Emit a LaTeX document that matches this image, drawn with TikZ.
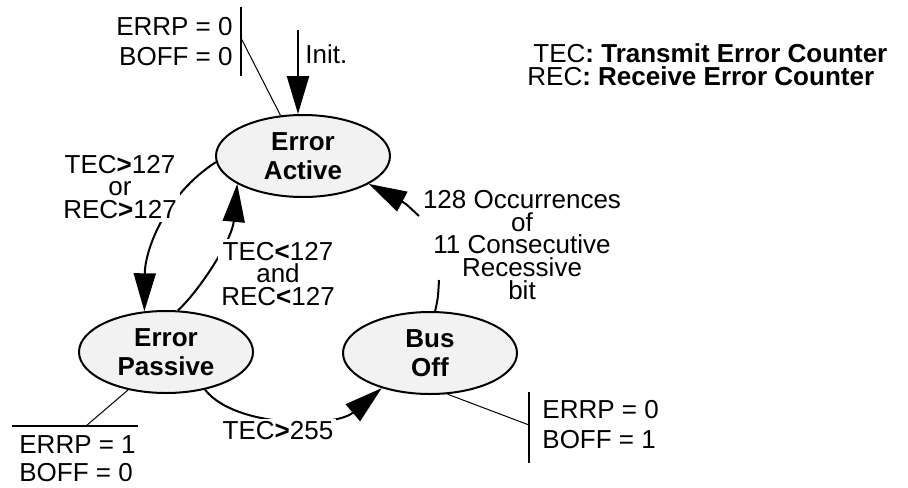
\documentclass[tikz,border=0pt]{standalone}
\usepackage{fontspec}
\setmainfont{Liberation Sans}
\usepackage{xcolor}
\usetikzlibrary{shapes.geometric,arrows.meta,positioning}
\definecolor{stategray}{rgb}{0.95,0.95,0.95}

\begin{document}
\begin{tikzpicture}[x=0.5pt,y=-0.5pt,
    state/.style={draw, ellipse, fill=stategray, line width=1pt, minimum width=87pt, minimum height=41pt, inner sep=0pt, align=center, font=\fontsize{13}{14.5}\selectfont\bfseries},
    trans/.style={line width=1pt, -{Triangle[length=19pt,width=11pt]}},
    cond/.style={fill=white, inner sep=1.5pt, align=center, font=\fontsize{13}{11.4}\selectfont},
    flags/.style={inner sep=0pt, font=\fontsize{13}{15}\selectfont},
    pin/.style={line width=0.5pt},
    bar/.style={line width=1pt}]
            \useasboundingbox (0,0) rectangle (908,487);

            % States
            \node[state] (ea) at (303,156) {Error\\Active};
            \node[state] (ep) at (166,352) {Error\\Passive};
            \node[state] (bo) at (430,353) {Bus\\Off};

            % Init
            \coordinate (init) at (298,30);
            \draw[trans, line width=1.2pt] (init) -- (init |- ea.north);
            \node[flags, anchor=west] (initlbl) at (305,54) {Init.};

            % Transitions
            \draw[trans] (ea.184) .. controls (165,195) and (145,250) .. (ep.118);
            \draw[trans] (ep.74) .. controls (200,290) and (232,240) .. (ea.203);
            \draw[trans] (ep.316) .. controls (235,428) and (335,428) .. (bo.216);
            \coordinate (occlow) at (439,280);
            \coordinate (occhigh) at (419,216);
            \draw[line width=1pt] (bo.83) .. controls (438,298) .. (occlow);
            \draw[trans] (occhigh) .. controls (405,203) .. (ea.337);

            % Conditions
            \node[cond] (toep) at (120,187) {TEC\textbf{>}127\\or\\REC\textbf{>}127};
            \node[cond] (toea) at (278,274) {TEC\textbf{<}127\\and\\REC\textbf{<}127};
            \node[cond] (tobo) at (278,431) {TEC\textbf{>}255};
            \node[cond, fill=none] (torecover) at (522,245) {128 Occurrences\\of\\11 Consecutive\\Recessive\\bit};

            % Flags
            \node[flags, align=right, anchor=east] (eaflags) at (233,42) {ERRP = 0\\BOFF = 0};
            \coordinate (eabartop) at (241,7);
            \coordinate (eabarbot) at (241,76);
            \coordinate (eapin) at (241,38);
            \draw[bar] (eabartop) -- (eabarbot);
            \draw[pin] (ea.119) -- (eapin);

            \node[flags, align=left, anchor=west, font=\fontsize{13}{14}\selectfont] (epflags) at (19,459) {ERRP = 1\\BOFF = 0};
            \coordinate (epbarl) at (12,426);
            \coordinate (epbarr) at (138,426);
            \coordinate (eppin) at (86,426);
            \draw[bar] (epbarl) -- (epbarr);
            \draw[pin] (ep.225) -- (eppin);

            \node[flags, align=left, anchor=west] (boflags) at (542,425) {ERRP = 0\\BOFF = 1};
            \coordinate (bobartop) at (529,392);
            \coordinate (bobarbot) at (529,463);
            \coordinate (bopin) at (529,425);
            \draw[bar] (bobartop) -- (bobarbot);
            \draw[pin] (bo.293) -- (bopin);

            % Legend
            \node[anchor=base west, inner sep=0pt, font=\fontsize{13}{15}\selectfont] (tecdef) at (533,62) {TEC\textbf{: Transmit Error Counter}};
            \node[anchor=base west, inner sep=0pt, font=\fontsize{13}{15}\selectfont] (recdef) at (527,85) {REC\textbf{: Receive Error Counter}};

        \end{tikzpicture}
\end{document}
